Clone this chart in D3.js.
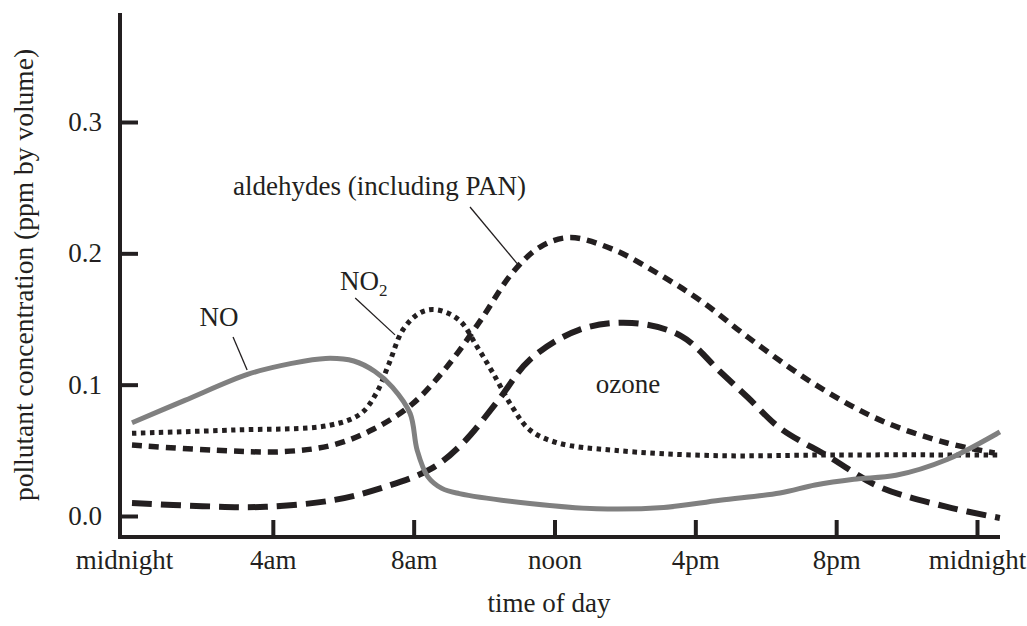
<!DOCTYPE html>
<meta charset="utf-8">
<script src="https://d3js.org/d3.v7.min.js"></script>
<style>
  body { margin: 0; background: #fff; }
</style>
<body>
<script>

    // time of day, in hours after midnight
    var tickHours = [0, 4, 8, 12, 16, 20, 24],
        tickLabels = ["midnight", "4am", "8am", "noon", "4pm", "8pm", "midnight"],
        yTicks = [0, 0.1, 0.2, 0.3];

    // NO (grey solid)
    var noHours  = [0, 1.5, 3.3, 4.5, 5.5, 6.3, 6.9, 7.4, 7.9, 8.1, 8.4, 8.8, 9.3, 11.3, 13.2, 15.1, 16.7, 18.4, 19.4, 20.5, 21.7, 23.15, 24.65],
        noValues = [0.071, 0.088, 0.108, 0.116, 0.120, 0.118, 0.110, 0.098, 0.078, 0.050, 0.030, 0.021, 0.017, 0.0095, 0.0055, 0.0065, 0.012, 0.0175, 0.0236, 0.028, 0.031, 0.043, 0.064];

    // NO2 (dotted)
    var no2Hours  = [0, 2.9, 5.6, 6.5, 6.95, 7.3, 7.7, 8.2, 8.65, 9.3, 9.8, 10.25, 10.8, 11.3, 12.1, 13.7, 16.5, 20, 24.65],
        no2Values = [0.063, 0.0655, 0.069, 0.078, 0.094, 0.116, 0.142, 0.155, 0.157, 0.149, 0.129, 0.109, 0.083, 0.0655, 0.0556, 0.050, 0.046, 0.0465, 0.0465];

    // aldehydes incl. PAN (short dashes)
    var aldHours  = [0, 2.4, 4.3, 5.7, 6.85, 7.95, 8.94, 9.9, 10.8, 11.6, 12.44, 13.66, 15.1, 16.2, 17.5, 19.35, 21.25, 23.15, 24.5],
        aldValues = [0.054, 0.050, 0.049, 0.054, 0.066, 0.085, 0.1135, 0.149, 0.185, 0.205, 0.212, 0.203, 0.182, 0.163, 0.136, 0.101, 0.073, 0.0556, 0.048];

    // ozone (long dashes)
    var ozHours  = [0, 2, 3.8, 5.7, 7.05, 8.5, 9.4, 10.4, 11.3, 12.7, 14.2, 15.6, 16.7, 17.5, 18.4, 19.8, 21.25, 23.15, 24.65],
        ozValues = [0.0099, 0.0075, 0.007, 0.012, 0.021, 0.036, 0.0556, 0.088, 0.119, 0.1417, 0.147, 0.137, 0.110, 0.090, 0.067, 0.045, 0.022, 0.0069, -0.0015];

    var ink = "#231f20",
        serif = "'Liberation Serif', 'DejaVu Serif', 'Times New Roman', serif",
        fs = "27px";

    var svg = d3.select("body").append("svg")
        .attr("width", 1027)
        .attr("height", 626)
        .style("font-family", serif);

    var x = d3.scaleLinear()
        .domain([0, 24])
        .range([132, 977]);

    var y = d3.scaleLinear()
        .domain([0, 0.3])
        .range([516, 122]);

    var axisY = 537, axisX = 120;

    // y axis
    var yAxis = svg.append("g")
        .attr("transform", "translate(" + axisX + ",0)")
        .call(d3.axisLeft(y)
            .tickValues(yTicks)
            .tickFormat(d3.format(".1f"))
            .tickSize(-18)
            .tickPadding(18));
    yAxis.attr("font-family", null);
    yAxis.select(".domain").remove();
    yAxis.selectAll(".tick line").attr("stroke", ink).attr("stroke-width", 4);
    yAxis.selectAll(".tick text")
        .style("font-family", serif)
        .style("font-size", fs)
        .attr("fill", ink);

    // x axis
    var xAxis = svg.append("g")
        .attr("transform", "translate(0," + axisY + ")")
        .call(d3.axisBottom(x)
            .tickValues(tickHours)
            .tickFormat(function(d, i) { return tickLabels[i]; })
            .tickSize(-17)
            .tickPadding(13));
    xAxis.attr("font-family", null);
    xAxis.select(".domain").remove();
    xAxis.selectAll(".tick line")
        .attr("stroke", ink).attr("stroke-width", 4)
        .filter(function(d) { return d === 0; }).remove();
    xAxis.selectAll(".tick text")
        .style("font-family", serif)
        .style("font-size", fs)
        .attr("fill", ink)
        .attr("dx", function(d) { return d === 0 ? -8 : 0; });

    svg.append("line")
        .attr("x1", axisX).attr("x2", axisX)
        .attr("y1", 13).attr("y2", axisY + 2)
        .attr("stroke", ink).attr("stroke-width", 4);
    svg.append("line")
        .attr("x1", axisX - 2).attr("x2", 1000)
        .attr("y1", axisY).attr("y2", axisY)
        .attr("stroke", ink).attr("stroke-width", 4);

    function label(tx, ty, str, anchor) {
        return svg.append("text")
            .attr("x", tx).attr("y", ty)
            .attr("text-anchor", anchor || "start")
            .attr("fill", ink)
            .style("font-family", serif)
            .style("font-size", fs)
            .text(str);
    }

    // axis titles
    label(549, 612, "time of day", "middle");
    label(0, 0, "pollutant concentration (ppm by volume)", "middle")
        .style("font-size", "27.5px")
        .attr("transform", "translate(33,275) rotate(-90)");

    // curves
    var line = d3.line()
        .x(function(d) { return x(d[0]); })
        .y(function(d) { return y(d[1]); })
        .curve(d3.curveCatmullRom.alpha(0.5));

    var series = [
        {h: ozHours,  v: ozValues,  color: ink, width: 6, dash: "20,9"},
        {h: aldHours, v: aldValues, color: ink, width: 5.5, dash: "10,7"},
        {h: no2Hours, v: no2Values, color: ink, width: 5, dash: "4.5,4.5"},
        {h: noHours,  v: noValues,  color: "#808080", width: 5, dash: null}
    ];

    svg.selectAll("path.curve")
        .data(series)
        .enter().append("path")
        .attr("class", "curve")
        .attr("fill", "none")
        .attr("stroke", function(d) { return d.color; })
        .attr("stroke-width", function(d) { return d.width; })
        .attr("stroke-dasharray", function(d) { return d.dash; })
        .attr("d", function(d) { return line(d3.zip(d.h, d.v)); });

    // labels with leader lines
    var leaders = [
        [[2.87, 0.1363], [3.27, 0.1112]],
        [[6.34, 0.166], [7.47, 0.1379]],
        [[9.6, 0.2353], [10.97, 0.1912]]
    ];

    svg.selectAll("line.leader")
        .data(leaders)
        .enter().append("line")
        .attr("class", "leader")
        .attr("x1", function(d) { return x(d[0][0]); })
        .attr("y1", function(d) { return y(d[0][1]); })
        .attr("x2", function(d) { return x(d[1][0]); })
        .attr("y2", function(d) { return y(d[1][1]); })
        .attr("stroke", ink)
        .attr("stroke-width", 1.3);

    label(x(2.47), y(0.1447), "NO", "middle");

    label(x(5.91), y(0.172), "NO")
        .append("tspan")
        .style("font-size", "17px")
        .attr("dy", 6)
        .text("2");

    label(x(2.87), y(0.2445), "aldehydes (including PAN)");

    label(x(14.09), y(0.0937), "ozone", "middle");

</script>
</body>
